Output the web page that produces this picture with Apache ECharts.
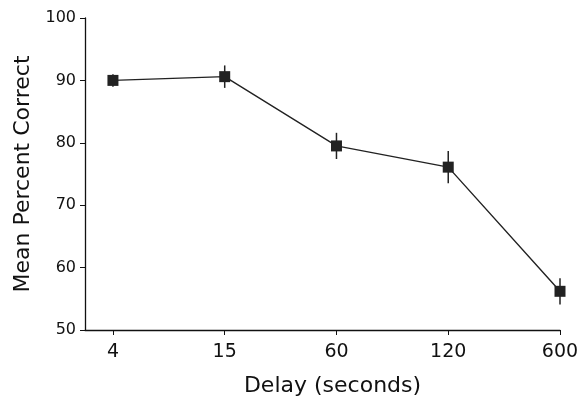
<!DOCTYPE html>
<html>
<head>
<meta charset="utf-8">
<script src="https://cdn.jsdelivr.net/npm/echarts@6/dist/echarts.min.js"></script>
<style>
  html, body { margin: 0; padding: 0; background: #fff; }
  #chart { width: 583px; height: 402px; }
</style>
</head>
<body>
<div id="chart"></div>
<script>
  // delay conditions (seconds) and mean percent correct
  const delays = ['4', '15', '60', '120', '600']
  const meanCorrect = [90.0, 90.6, 79.5, 76.1, 56.2]
  const errors = [1.0, 1.8, 2.1, 2.6, 2.1]
  const yTicks = [50, 60, 70, 80, 90, 100]

  const positions = delays.map((d, i) => i)
  const lineData = meanCorrect.map((v, i) => [positions[i], v])
  const errData = meanCorrect.map((v, i) => [positions[i], v - errors[i], v + errors[i]])

  const chart = echarts.init(document.getElementById('chart'))
  const font = 'DejaVu Sans'
  chart.setOption({
    animation: false,
    grid: { left: 85, right: 23, top: 18, bottom: 72 },
    xAxis: {
      type: 'value',
      min: -0.25,
      max: 4,
      name: 'Delay (seconds)',
      nameLocation: 'middle',
      nameGap: 45,
      nameTextStyle: { color: '#111', fontSize: 22, fontFamily: font, padding: [0, 0, 0, 20] },
      splitLine: { show: false },
      axisLine: { onZero: false, lineStyle: { color: '#111', width: 1.3 } },
      axisTick: { customValues: positions, length: 5, lineStyle: { color: '#111' } },
      axisLabel: {
        customValues: positions,
        formatter: v => delays[Math.round(v)],
        color: '#111', fontSize: 19, fontFamily: font, margin: 13
      }
    },
    yAxis: {
      type: 'value',
      min: 50,
      max: 100,
      interval: 10,
      name: 'Mean Percent Correct',
      nameLocation: 'middle',
      nameGap: 50,
      nameTextStyle: { color: '#111', fontSize: 22, fontFamily: font },
      splitLine: { show: false },
      axisLine: { show: true, onZero: false, lineStyle: { color: '#111', width: 1.3 } },
      axisTick: { show: true, length: 5, lineStyle: { color: '#111' } },
      axisLabel: {
        formatter: v => (yTicks.indexOf(v) >= 0 ? String(v) : ''),
        color: '#111', fontSize: 16, fontFamily: font, margin: 9
      }
    },
    series: [
      {
        type: 'custom',
        data: errData,
        renderItem (params, api) {
          const top = api.coord([api.value(0), api.value(2)])
          const bot = api.coord([api.value(0), api.value(1)])
          return {
            type: 'line',
            shape: { x1: top[0], y1: top[1], x2: bot[0], y2: bot[1] },
            style: { stroke: '#222', lineWidth: 1.5 }
          }
        },
        z: 1
      },
      {
        type: 'line',
        data: lineData,
        symbol: 'rect',
        symbolSize: 11,
        itemStyle: { color: '#222' },
        lineStyle: { color: '#222', width: 1.4 },
        z: 2
      }
    ]
  })
</script>
</body>
</html>
